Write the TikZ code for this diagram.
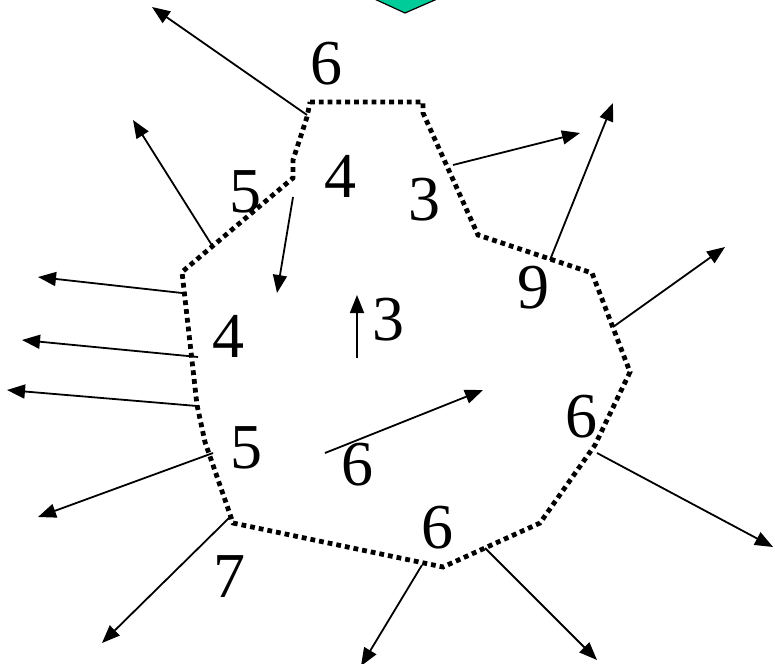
\documentclass[tikz,border=0pt]{standalone}
\usepackage{fontspec}
\setmainfont{Liberation Serif}
\usepackage{xcolor}
\usetikzlibrary{arrows.meta}
\definecolor{Ink}{HTML}{000000}
\definecolor{Teal}{HTML}{00CC99}

\begin{document}
\begin{tikzpicture}[
  x=1pt,y=-1pt,
  num/.style={inner sep=0pt,font=\rmfamily\fontsize{64}{64}\selectfont,text=Ink},
  bound/.style={draw=Ink,line width=4.8pt,dash pattern=on 4.8pt off 4pt},
  flow/.style={-{Triangle[length=18pt,width=14pt]},line width=1.8pt,draw=Ink}
]
  \useasboundingbox (0,0) rectangle (775,663);
  % piece of the shape above
  \filldraw[fill=Teal,draw=Ink,line width=1.2pt] (368,-4) -- (405,13) -- (444,-4) -- cycle;
  % dotted boundary
  \draw[bound] (310,102) -- (423,102) -- (423,113) -- (478,235) -- (592,273)
    -- (630,372) -- (595,445) -- (540,523) -- (443,567) -- (233,523)
    -- (205,442) -- (197,405) -- (182,272) -- (293,178) -- (293,160)
    -- (307,117) -- cycle;
  % labels
  \node[num] (ntop) at (326,64) {6};
  \node[num] (nfive) at (245,192) {5};
  \node[num] (nfour) at (340,176) {4};
  \node[num] (nthree) at (424,200) {3};
  \node[num] (nnine) at (533,288) {9};
  \node[num] (nleft) at (228,336) {4};
  \node[num] (nup) at (388,320) {3};
  \node[num] (nlow) at (246,448) {5};
  \node[num] (nmid) at (357,465) {6};
  \node[num] (nright) at (581,417) {6};
  \node[num] (nbot) at (437,528) {6};
  \node[num] (nseven) at (229,577) {7};
  % arrow ends
  \coordinate (a1) at (307,115); \coordinate (b1) at (152,7);
  \coordinate (a2) at (213,247); \coordinate (b2) at (133,120);
  \coordinate (a3) at (293,197); \coordinate (b3) at (277,293);
  \coordinate (a4) at (182,293); \coordinate (b4) at (38,277);
  \coordinate (a5) at (198,357); \coordinate (b5) at (22,340);
  \coordinate (a6) at (197,406); \coordinate (b6) at (7,390);
  \coordinate (a7) at (213,453); \coordinate (b7) at (38,517);
  \coordinate (a8) at (230,517); \coordinate (b8) at (102,643);
  \coordinate (a9) at (422,565); \coordinate (b9) at (361,666);
  \coordinate (a10) at (485,548); \coordinate (b10) at (597,660);
  \coordinate (a11) at (597,453); \coordinate (b11) at (773,547);
  \coordinate (a12) at (613,327); \coordinate (b12) at (725,247);
  \coordinate (a13) at (550,260); \coordinate (b13) at (613,103);
  \coordinate (a14) at (453,165); \coordinate (b14) at (580,133);
  \coordinate (a15) at (357,358); \coordinate (b15) at (357,295);
  \coordinate (a16) at (325,453); \coordinate (b16) at (483,390);
  \draw[flow] (a1) -- (b1);
  \draw[flow] (a2) -- (b2);
  \draw[flow] (a3) -- (b3);
  \draw[flow] (a4) -- (b4);
  \draw[flow] (a5) -- (b5);
  \draw[flow] (a6) -- (b6);
  \draw[flow] (a7) -- (b7);
  \draw[flow] (a8) -- (b8);
  \draw[flow] (a9) -- (b9);
  \draw[flow] (a10) -- (b10);
  \draw[flow] (a11) -- (b11);
  \draw[flow] (a12) -- (b12);
  \draw[flow] (a13) -- (b13);
  \draw[flow] (a14) -- (b14);
  \draw[flow] (a15) -- (b15);
  \draw[flow] (a16) -- (b16);
\end{tikzpicture}
\end{document}
